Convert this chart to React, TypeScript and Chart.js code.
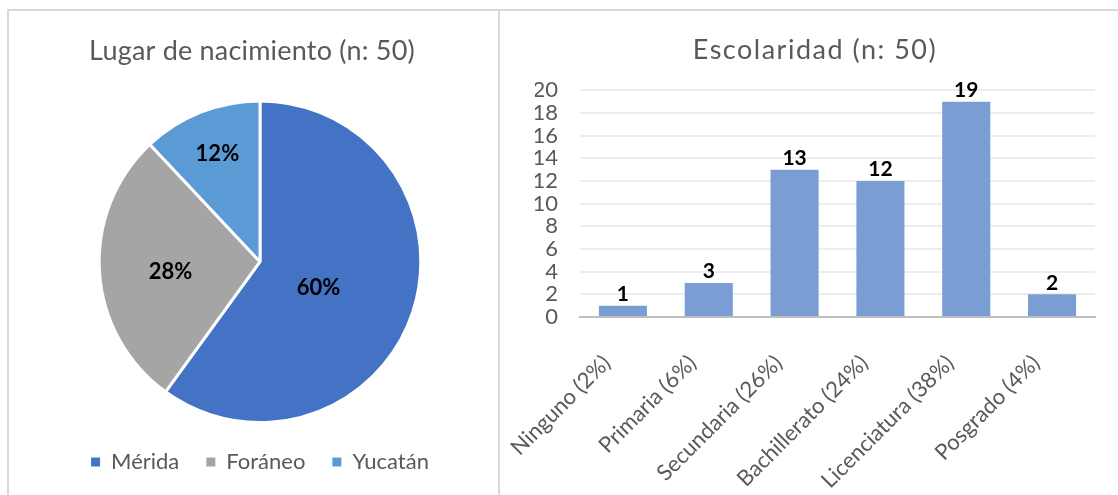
import React, { useEffect, useRef } from "react";
import { Chart, registerables } from "chart.js";

Chart.register(...registerables);

// ---- Data ----
const birthTitle = "Lugar de nacimiento (n: 50)";
const birthLabels = ["Mérida", "Foráneo", "Yucatán"];
const birthCounts = [30, 14, 6];
const birthColors = ["#4472C4", "#A5A5A5", "#5B9BD5"];

const schoolTitle = "Escolaridad (n: 50)";
const schoolLabels = [
  "Ninguno (2%)",
  "Primaria (6%)",
  "Secundaria (26%)",
  "Bachillerato (24%)",
  "Licenciatura (38%)",
  "Posgrado (4%)",
];
const schoolCounts = [1, 3, 13, 12, 19, 2];
const yMin = 0;
const yMax = 20;
const yStep = 2;

const FONT = "Lato";
const TEXT_GRAY = "#595959";

const pieLabelPlugin = {
  id: "pieLabels",
  afterDatasetsDraw(chart: any, _args: any, opts: any) {
    const meta = chart.getDatasetMeta(0);
    const data = chart.data.datasets[0].data as number[];
    const total = data.reduce((a, b) => a + b, 0);
    const ctx = chart.ctx;
    ctx.save();
    ctx.font = `bold ${opts.size}px ${FONT}`;
    ctx.fillStyle = "#000000";
    ctx.textAlign = "center";
    ctx.textBaseline = "middle";
    meta.data.forEach((arc: any, i: number) => {
      const p = arc.getProps(["x", "y", "startAngle", "endAngle", "outerRadius"], true);
      const mid = (p.startAngle + p.endAngle) / 2 + (opts.angleShift[i] * Math.PI) / 180;
      const r = p.outerRadius * opts.radii[i];
      ctx.fillText(
        Math.round((data[i] / total) * 100) + "%",
        p.x + Math.cos(mid) * r,
        p.y + Math.sin(mid) * r
      );
    });
    ctx.restore();
  },
};

const barLabelPlugin = {
  id: "barLabels",
  afterDatasetsDraw(chart: any, _args: any, opts: any) {
    const meta = chart.getDatasetMeta(0);
    const data = chart.data.datasets[0].data as number[];
    const ctx = chart.ctx;
    ctx.save();
    ctx.font = `bold ${opts.size}px ${FONT}`;
    ctx.fillStyle = "#000000";
    ctx.textAlign = "center";
    ctx.textBaseline = "bottom";
    meta.data.forEach((bar: any, i: number) => {
      const p = bar.getProps(["x", "y"], true);
      ctx.fillText(String(data[i]), p.x, p.y - 1);
    });
    ctx.restore();
  },
};

// Adds letter spacing (and a small horizontal shift) to the Chart.js title block
const titleSpacingPlugin = {
  id: "titleSpacing",
  beforeDraw(chart: any, _args: any, opts: any) {
    const tb = chart.titleBlock;
    if (tb && !tb.__spaced) {
      const orig = tb.draw.bind(tb);
      tb.draw = (...a: any[]) => {
        const ctx = chart.ctx as any;
        ctx.save();
        ctx.letterSpacing = opts.spacing || "0px";
        ctx.translate(opts.dx || 0, 0);
        orig(...a);
        ctx.restore();
      };
      tb.__spaced = true;
    }
  },
};

function PieChart() {
  const ref = useRef<HTMLCanvasElement>(null);
  useEffect(() => {
    const chart = new Chart(ref.current!, {
      type: "pie",
      data: {
        labels: birthLabels,
        datasets: [
          {
            data: birthCounts,
            backgroundColor: birthColors,
            borderColor: "#ffffff",
            borderWidth: 3,
          },
        ],
      },
      options: {
        animation: false,
        responsive: false,
        layout: { padding: { left: 13, right: 0, top: 0, bottom: 12 } },
        plugins: {
          title: {
            display: true,
            text: birthTitle,
            color: TEXT_GRAY,
            font: { family: FONT, size: 27, weight: "normal" },
            padding: { top: 24, bottom: 32 },
          },
          legend: {
            display: true,
            position: "bottom",
            labels: {
              color: TEXT_GRAY,
              font: { family: FONT, size: 22 },
              boxWidth: 9,
              boxHeight: 9,
              padding: 27,
              generateLabels(chart: any) {
                const items = (Chart as any).overrides.pie.plugins.legend.labels.generateLabels(chart);
                return items.map((it: any) => ({ ...it, lineWidth: 0, strokeStyle: "transparent" }));
              },
            },
          },
          tooltip: { enabled: false },
          pieLabels: { size: 22, radii: [0.4, 0.56, 0.72], angleShift: [6.5, -2.7, 0] },
          titleSpacing: { spacing: "0.2px", dx: -8 },
        } as any,
      },
      plugins: [pieLabelPlugin, titleSpacingPlugin],
    });
    return () => chart.destroy();
  }, []);
  return <canvas ref={ref} width={489} height={484} style={{ position: "absolute", left: 9, top: 11 }} />;
}

function BarChart() {
  const ref = useRef<HTMLCanvasElement>(null);
  useEffect(() => {
    const chart = new Chart(ref.current!, {
      type: "bar",
      data: {
        labels: schoolLabels,
        datasets: [
          {
            data: schoolCounts,
            backgroundColor: "#7A9DD4",
            borderWidth: 0,
            barPercentage: 0.56,
            categoryPercentage: 1,
          },
        ],
      },
      options: {
        animation: false,
        responsive: false,
        layout: { autoPadding: false, padding: { left: 35, right: 23, top: 0, bottom: 2 } },
        scales: {
          x: {
            grid: { display: false },
            border: { display: true, color: "#BFBFBF", width: 2 },
            ticks: {
              color: TEXT_GRAY,
              font: { family: FONT, size: 22 },
              minRotation: 45,
              maxRotation: 45,
              autoSkip: false,
              padding: 25,
              labelOffset: -16,
            },
            afterFit(scale: any) {
              scale.paddingLeft = 0;
              scale.paddingRight = 0;
              scale.height = 176;
            },
          },
          y: {
            min: yMin,
            max: yMax,
            grid: { color: "#EDEDED", lineWidth: 2, drawTicks: false },
            border: { display: false },
            ticks: {
              stepSize: yStep,
              autoSkip: false,
              color: TEXT_GRAY,
              font: { family: FONT, size: 22, lineHeight: 1 },
              padding: 22,
            },
            afterFit(scale: any) {
              scale.width = 45;
            },
          },
        },
        plugins: {
          title: {
            display: true,
            text: schoolTitle,
            color: TEXT_GRAY,
            font: { family: FONT, size: 27, weight: "normal" },
            padding: { top: 23, bottom: 24 },
          },
          legend: { display: false },
          tooltip: { enabled: false },
          barLabels: { size: 21 },
          titleSpacing: { spacing: "1.5px", dx: 0 },
        } as any,
      },
      plugins: [barLabelPlugin, titleSpacingPlugin],
    });
    return () => chart.destroy();
  }, []);
  return <canvas ref={ref} width={618} height={484} style={{ position: "absolute", left: 500, top: 11 }} />;
}

export default function App() {
  return (
    <div
      style={{
        position: "absolute",
        left: 0,
        top: 0,
        width: 1118,
        height: 495,
        background: "#ffffff",
        overflow: "hidden",
      }}
    >
      <PieChart />
      <BarChart />
      <div style={{ position: "absolute", left: 7, top: 9, width: 1111, height: 2, background: "#D9D9D9" }} />
      <div style={{ position: "absolute", left: 7, top: 9, width: 2, height: 486, background: "#D9D9D9" }} />
      <div style={{ position: "absolute", left: 498, top: 9, width: 2, height: 486, background: "#D9D9D9" }} />
    </div>
  );
}
